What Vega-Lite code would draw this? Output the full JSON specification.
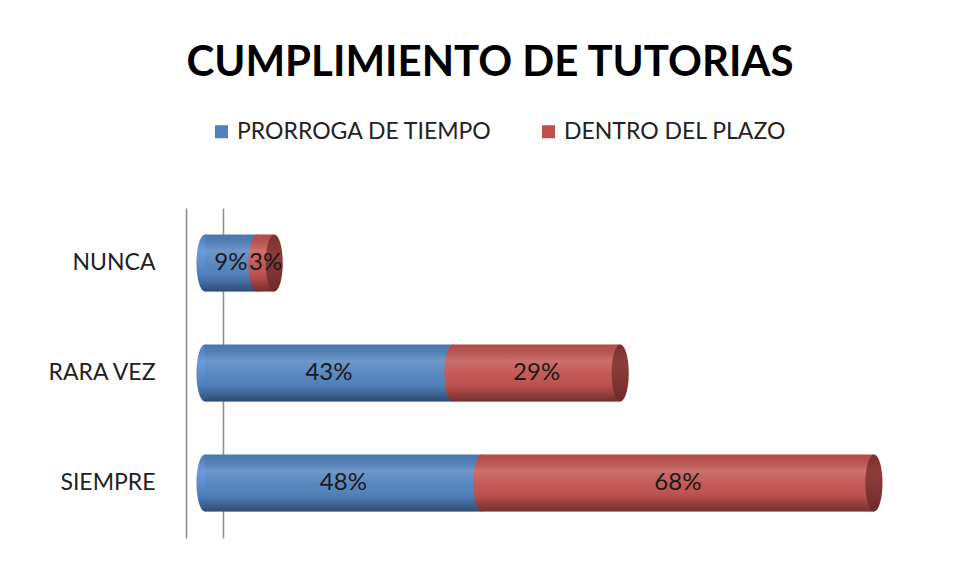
{
  "$schema": "https://vega.github.io/schema/vega-lite/v6.json",
  "autosize": "none",
  "width": 692,
  "height": 330,
  "padding": {"left": 205, "top": 208, "right": 66, "bottom": 43},
  "background": "white",
  "config": {"view": {"stroke": null}},
  "title": {
    "text": "CUMPLIMIENTO DE TUTORIAS",
    "font": "Lato",
    "fontSize": 42,
    "fontWeight": "bold",
    "color": "#000000",
    "anchor": "middle",
    "frame": "group",
    "dx": -61,
    "offset": 35
  },
  "data": {
    "values": [
      {"cat": "NUNCA", "serie": "PRORROGA DE TIEMPO", "orden": 1, "valor": 0.09},
      {"cat": "NUNCA", "serie": "DENTRO DEL PLAZO", "orden": 2, "valor": 0.03},
      {"cat": "RARA VEZ", "serie": "PRORROGA DE TIEMPO", "orden": 1, "valor": 0.43},
      {"cat": "RARA VEZ", "serie": "DENTRO DEL PLAZO", "orden": 2, "valor": 0.29},
      {"cat": "SIEMPRE", "serie": "PRORROGA DE TIEMPO", "orden": 1, "valor": 0.48},
      {"cat": "SIEMPRE", "serie": "DENTRO DEL PLAZO", "orden": 2, "valor": 0.68}
    ]
  },
  "layer": [
    {
      "mark": {"type": "point", "filled": true, "opacity": 1, "strokeWidth": 0, "size": 3249,
        "shape": "M 0 -1 A 0.3 1 0 0 1 0 1 A 0.3 1 0 0 1 0 -1 Z",
        "fill": {"gradient": "linear", "x1": 0, "y1": 0, "x2": 0, "y2": 1,
          "stops": [{"offset": 0, "color": "#4b7bbb"}, {"offset": 0.3, "color": "#6a9bdb"}, {"offset": 0.7, "color": "#4f80c0"}, {"offset": 1, "color": "#2b5088"}]}},
      "transform": [{"filter": "datum.orden == 1"}],
      "encoding": {
        "x": {"datum": 0},
        "y": {"field": "cat", "type": "nominal", "sort": ["NUNCA", "RARA VEZ", "SIEMPRE"]}
      }
    },
    {
      "mark": {"type": "bar"},
      "encoding": {
        "y": {
          "field": "cat",
          "type": "nominal",
          "sort": ["NUNCA", "RARA VEZ", "SIEMPRE"],
          "scale": {"paddingInner": 0.48, "paddingOuter": 0.24},
          "axis": {
            "title": null,
            "ticks": false,
            "offset": 19,
            "labelPadding": 31,
            "labelFont": "Lato",
            "labelFontSize": 23,
            "labelColor": "#222222",
            "domainColor": "#8c8c8c",
            "domainWidth": 1.5
          }
        },
        "x": {"field": "valor", "type": "quantitative", "aggregate": "sum", "stack": "zero",
          "scale": {"domain": [0, 1.2]},
          "axis": {"values": [0.031], "grid": true, "gridColor": "#8c8c8c", "gridWidth": 1.5, "gridOpacity": 1,
            "labels": false, "ticks": false, "domain": false, "title": null}},
        "color": {
          "field": "serie",
          "type": "nominal",
          "scale": {"domain": ["PRORROGA DE TIEMPO", "DENTRO DEL PLAZO"], "range": ["#4F81BD", "#C0504D"]},
          "legend": {
            "title": null,
            "orient": "none",
            "direction": "horizontal",
            "legendX": 5,
            "legendY": -88,
            "symbolType": "square",
            "symbolSize": 169,
            "symbolStrokeWidth": 0,
            "labelFont": "Lato",
            "labelFontSize": 23,
            "labelColor": "#222222",
            "labelLimit": 400,
            "labelOffset": 4,
            "columnPadding": 44
          }
        },
        "order": {"field": "orden", "type": "quantitative"}
      }
    },
    {
      "mark": {"type": "point", "filled": true, "opacity": 1, "strokeWidth": 0, "size": 3249,
        "shape": "M 0 -1 A 0.3 1 0 0 1 0 1 A 0.3 1 0 0 1 0 -1 Z",
        "fill": "#C0504D"},
      "transform": [{"filter": "datum.orden == 1"}],
      "encoding": {
        "x": {"field": "valor", "type": "quantitative"},
        "y": {"field": "cat", "type": "nominal", "sort": ["NUNCA", "RARA VEZ", "SIEMPRE"]}
      }
    },
    {
      "mark": {"type": "bar",
        "fill": {"gradient": "linear", "x1": 0, "y1": 0, "x2": 0, "y2": 1,
          "stops": [{"offset": 0, "color": "rgba(0,0,0,0.06)"}, {"offset": 0.28, "color": "rgba(255,255,255,0.18)"}, {"offset": 0.55, "color": "rgba(255,255,255,0.04)"}, {"offset": 0.8, "color": "rgba(0,0,0,0.12)"}, {"offset": 1, "color": "rgba(0,0,0,0.42)"}]}},
      "encoding": {
        "x": {"field": "valor", "type": "quantitative", "aggregate": "sum"},
        "y": {"field": "cat", "type": "nominal", "sort": ["NUNCA", "RARA VEZ", "SIEMPRE"]}
      }
    },
    {
      "mark": {"type": "point", "filled": true, "opacity": 1, "strokeWidth": 0, "size": 3249,
        "shape": "M 0 -1 A 0.3 1 0 0 1 0 1 A 0.3 1 0 0 1 0 -1 Z",
        "fill": {"gradient": "linear", "x1": 0, "y1": 0, "x2": 0, "y2": 1,
          "stops": [{"offset": 0, "color": "#7a3230"}, {"offset": 0.35, "color": "#8e3c3a"}, {"offset": 1, "color": "#6e2a28"}]}},
      "encoding": {
        "x": {"field": "valor", "type": "quantitative", "aggregate": "sum"},
        "y": {"field": "cat", "type": "nominal", "sort": ["NUNCA", "RARA VEZ", "SIEMPRE"]}
      }
    },
    {
      "mark": {"type": "text", "font": "Lato", "fontSize": 24, "color": "#1a1a1a", "align": "center", "baseline": "middle"},
      "encoding": {
        "y": {"field": "cat", "type": "nominal", "sort": ["NUNCA", "RARA VEZ", "SIEMPRE"]},
        "x": {"field": "valor", "type": "quantitative", "stack": "zero", "bandPosition": 0.5},
        "detail": {"field": "serie"},
        "order": {"field": "orden", "type": "quantitative"},
        "text": {"field": "valor", "type": "quantitative", "format": ".0%"}
      }
    }
  ]
}
